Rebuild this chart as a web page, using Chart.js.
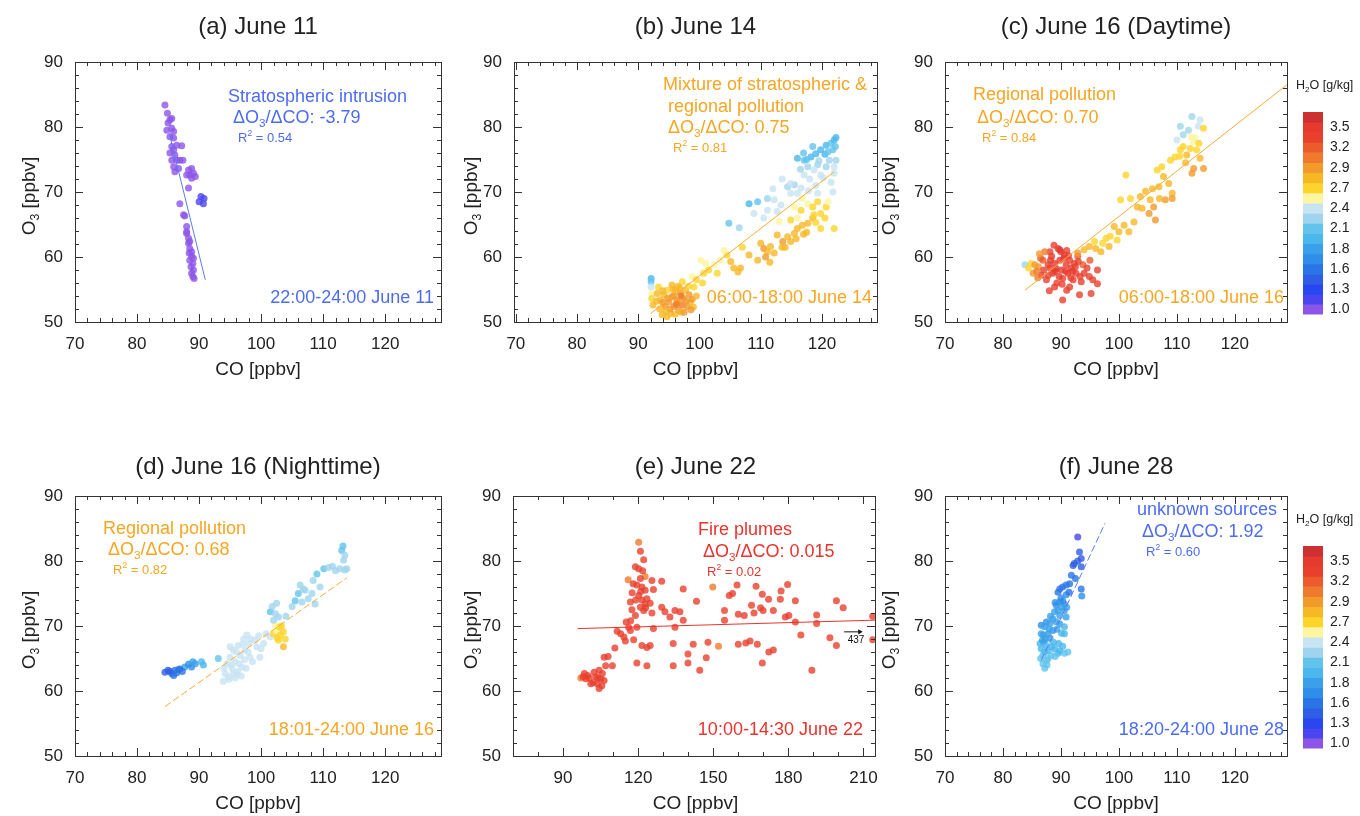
<!DOCTYPE html>
<html>
<head>
<meta charset="utf-8">
<script src="https://cdn.jsdelivr.net/npm/chart.js@4.4.0/dist/chart.umd.min.js"></script>
<style>
  body { margin: 0; background: #fff; width: 1360px; height: 816px; position: relative; overflow: hidden; }
  canvas { position: absolute; }
</style>
</head>
<body>
<canvas id="pa"></canvas>
<canvas id="pb"></canvas>
<canvas id="pc"></canvas>
<canvas id="pd"></canvas>
<canvas id="pe"></canvas>
<canvas id="pf"></canvas>
<canvas id="cb1"></canvas>
<canvas id="cb2"></canvas>
<script>
const FONT = "'Liberation Sans', Arial, Helvetica, sans-serif";

// H2O colour scale, bottom (1.0 g/kg) to top
const bandColors = ['#8c55e8', '#4a45ee', '#2847f0', '#2e5ee6', '#2a75e6', '#2f8ee9', '#3aa0ea', '#4ab8ec', '#62c4ec', '#a0d4ee',
  '#c8e4f2', '#fef5a0', '#fcd42b', '#f6b825', '#f29a2c', '#f07a2c', '#ec5b2c', '#e8402d', '#e63a2e', '#cc3030'];
const bandLabels = ['1.0', '', '1.3', '', '1.6', '', '1.8', '', '2.1', '', '2.4', '', '2.7', '', '2.9', '', '3.2', '', '3.5', ''];
const bandSpan = [1, 1, 1, 1, 1, 1, 1, 1, 1, 1, 1, 1, 1, 1, 1, 1, 1, 1, 1, 1];

// (a) June 11
const coA = [84.5, 84.9, 85.3, 85.6, 85.0, 84.8, 85.6, 85.9, 85.3, 85.9,
  85.6, 86.4, 87.2, 85.9, 85.3, 86.1, 85.6, 86.4, 86.9, 87.4,
  85.9, 86.7, 86.1, 88.3, 88.8, 89.1, 88.5, 88.0, 89.4, 88.8,
  88.3, 90.3, 90.8, 90.0, 90.7, 86.9, 87.5, 87.7, 88.0, 88.0,
  88.3, 88.3, 88.5, 88.4, 88.8, 88.5, 89.0, 88.7, 89.1, 88.8,
  89.2, 89.0, 88.0, 88.8, 89.1, 88.5];
const o3A = [83.4, 82.1, 81.1, 81.3, 80.6, 79.5, 79.8, 79.3, 78.5, 78.3,
  77.0, 77.2, 77.1, 76.5, 76.0, 75.7, 74.9, 74.9, 74.9, 74.9,
  73.9, 73.6, 73.1, 73.4, 73.6, 72.9, 72.6, 72.6, 72.4, 72.1,
  70.6, 69.3, 69.0, 68.5, 68.2, 68.2, 66.5, 66.3, 64.7, 63.9,
  62.9, 62.1, 61.3, 60.6, 60.1, 59.5, 59.0, 58.5, 58.0, 57.5,
  56.7, 57.0, 63.6, 60.8, 59.8, 62.4];
const h2oA = [1.0, 1.0, 1.0, 1.0, 1.0, 1.0, 1.0, 1.0, 1.0, 1.0,
  1.0, 1.0, 1.0, 1.0, 1.0, 1.0, 1.0, 1.0, 1.0, 1.0,
  1.0, 1.0, 1.0, 1.0, 1.0, 1.0, 1.0, 1.0, 1.0, 1.0,
  1.0, 1.2, 1.2, 1.2, 1.2, 1.0, 1.0, 1.0, 1.0, 1.0,
  1.0, 1.0, 1.0, 1.0, 1.0, 1.0, 1.0, 1.0, 1.0, 1.0,
  1.0, 1.0, 1.0, 1.0, 1.0, 1.0];

// (b) June 14
const coB = [92.1, 92.1, 92.1, 92.2, 92.2, 92.4, 93.1, 93.6, 94.2, 94.4,
  94.7, 95.0, 95.3, 95.5, 95.8, 96.1, 96.3, 96.6, 96.9, 97.2,
  97.4, 97.7, 98.0, 98.3, 98.5, 93.9, 94.7, 93.3, 95.5, 97.2,
  99.1, 98.8, 100.2, 100.7, 101.5, 102.4, 102.9, 104.5, 105.1, 105.6,
  106.3, 106.7, 108.1, 103.4, 110.0, 110.5, 111.1, 110.8, 111.6, 112.7,
  113.6, 114.4, 114.9, 115.5, 116.0, 116.8, 117.7, 118.5, 119.8, 122.0,
  112.2, 116.6, 117.7, 118.5, 119.3, 118.7, 119.8, 120.7, 116.0, 115.5,
  114.9, 119.3, 116.8, 108.1, 109.5, 111.1, 112.2, 113.3, 108.9, 111.1,
  112.7, 104.8, 114.4, 115.5, 116.6, 114.9, 116.0, 116.0, 117.1, 118.2,
  119.0, 119.8, 120.7, 121.5, 122.0, 122.3, 117.7, 119.3, 120.7, 122.0,
  118.7, 121.2, 122.3, 117.1, 119.8, 122.0, 114.9, 120.5, 121.0, 117.5,
  118.0, 121.5, 113.0, 117.0, 113.5, 96.5, 94.0, 97.0, 99.5, 93.5,
  94.0, 94.8, 95.2, 95.8, 96.0, 96.5, 96.8, 97.5, 97.8, 98.2,
  98.8, 99.0, 93.0, 94.5, 95.7, 97.0, 96.2, 98.6, 99.5, 100.5,
  101.0, 104.0, 107.0, 109.5, 111.5, 114.0, 115.8, 117.5, 119.0, 120.5,
  121.0, 121.8, 119.0, 117.8, 120.2, 118.5, 117.0, 121.8, 122.2, 119.5,
  116.5, 113.5, 112.0, 110.5, 106.5];
const o3B = [56.7, 56.2, 55.4, 54.4, 53.6, 52.6, 54.4, 53.4, 54.2, 52.4,
  54.9, 53.1, 51.3, 53.9, 52.4, 54.9, 53.4, 51.8, 54.4, 52.6,
  53.6, 54.9, 52.4, 54.2, 53.1, 51.1, 50.8, 55.4, 55.7, 56.2,
  55.4, 57.0, 59.5, 57.5, 58.0, 58.8, 57.5, 60.3, 59.3, 58.3,
  57.7, 58.3, 60.3, 59.5, 62.1, 61.3, 60.8, 60.0, 61.6, 63.4,
  62.4, 63.1, 62.4, 63.6, 64.4, 64.9, 65.2, 66.0, 64.4, 64.4,
  60.6, 67.2, 68.2, 67.7, 68.5, 66.5, 66.7, 67.7, 66.0, 67.7,
  65.7, 69.8, 69.0, 68.2, 68.5, 69.0, 68.8, 68.0, 66.7, 67.2,
  67.0, 65.2, 70.8, 71.1, 70.6, 69.8, 69.8, 75.2, 74.9, 75.4,
  75.9, 76.5, 77.2, 77.5, 78.0, 78.4, 73.9, 74.2, 73.9, 73.9,
  73.4, 74.9, 74.9, 72.6, 72.6, 72.9, 71.3, 75.8, 76.2, 75.0,
  72.0, 71.5, 65.5, 63.5, 61.5, 55.5, 53.0, 51.5, 56.5, 52.0,
  54.8, 53.6, 52.0, 54.0, 51.2, 53.0, 55.2, 51.5, 53.2, 55.5,
  53.5, 52.3, 53.2, 51.7, 55.0, 54.0, 52.7, 51.9, 54.0, 56.0,
  59.0, 61.0, 61.5, 59.5, 59.2, 61.5, 62.8, 63.8, 65.3, 66.0,
  68.5, 70.0, 71.0, 70.2, 72.2, 77.0, 76.0, 76.5, 77.0, 74.8,
  73.5, 72.0, 70.5, 66.0, 64.5];
const h2oB = [2.0, 2.1, 2.4, 2.55, 2.65, 2.75, 2.8, 2.85, 2.8, 2.9,
  2.7, 3.0, 2.85, 2.9, 3.0, 2.8, 3.0, 2.9, 2.9, 3.1,
  3.0, 2.8, 2.9, 2.95, 2.85, 2.75, 2.8, 2.7, 2.75, 2.6,
  2.6, 2.55, 2.5, 2.6, 2.7, 2.55, 2.6, 2.6, 2.8, 2.85,
  2.85, 2.8, 2.85, 2.5, 2.85, 2.9, 2.85, 2.9, 2.85, 2.85,
  2.9, 2.85, 2.85, 2.8, 2.8, 2.75, 2.8, 2.75, 2.7, 2.65,
  2.8, 2.6, 2.55, 2.65, 2.6, 2.65, 2.6, 2.6, 2.55, 2.5,
  2.6, 2.45, 2.5, 2.0, 2.15, 2.3, 2.35, 2.4, 2.35, 2.4,
  2.4, 2.1, 2.3, 2.3, 2.35, 2.4, 2.4, 2.0, 2.05, 2.0,
  1.95, 2.0, 2.0, 2.05, 2.0, 2.0, 2.2, 2.3, 2.3, 2.35,
  2.35, 2.25, 2.3, 2.4, 2.4, 2.45, 2.35, 2.0, 2.05, 2.1,
  2.4, 2.45, 2.55, 2.75, 2.85, 2.75, 2.95, 2.85, 2.6, 2.8,
  2.75, 2.9, 2.9, 2.95, 2.85, 3.0, 2.8, 2.9, 3.0, 2.7,
  2.9, 2.85, 2.8, 2.85, 2.8, 3.05, 3.1, 2.9, 2.75, 2.6,
  2.55, 2.55, 2.6, 2.85, 2.8, 2.85, 2.8, 2.8, 2.7, 2.65,
  2.55, 2.45, 2.4, 2.45, 2.4, 2.05, 2.1, 2.1, 2.05, 2.25,
  2.3, 2.35, 2.35, 2.45, 2.3];

// (c) June 16 daytime
const coC = [83.8, 84.4, 85.2, 84.9, 86.1, 86.6, 86.9, 87.5, 88.1, 88.4,
  88.6, 88.9, 89.5, 89.8, 90.1, 90.3, 90.6, 90.9, 91.2, 91.5,
  91.8, 92.1, 92.3, 92.6, 92.9, 93.5, 94.0, 94.9, 96.3, 96.3,
  95.2, 93.2, 90.3, 89.8, 88.9, 91.5, 88.1, 87.2, 92.9, 94.0,
  94.9, 95.8, 96.9, 97.8, 98.3, 99.2, 100.0, 100.9, 101.7, 99.7,
  97.2, 100.3, 101.2, 102.0, 103.2, 103.7, 104.6, 105.4, 106.0, 106.3,
  105.2, 102.6, 106.9, 107.7, 107.4, 106.6, 108.6, 109.2, 109.2, 108.0,
  108.9, 109.7, 110.6, 111.1, 111.7, 112.3, 112.9, 113.4, 114.0, 112.9,
  114.6, 112.6, 111.1, 112.0, 112.6, 110.6, 113.7, 114.6, 114.0, 113.1,
  110.0, 89.0, 90.5, 91.0, 87.8, 92.0, 89.3, 93.8, 86.0, 86.5,
  87.0, 87.8, 88.2, 88.8, 89.2, 89.7, 90.0, 90.8, 91.3, 91.7,
  92.5, 93.0, 93.3, 94.5, 95.0, 95.5, 86.3, 85.5, 85.8, 90.2,
  91.0, 88.0, 110.5, 111.5, 113.8, 112.5, 104.0, 105.8, 107.0, 98.5,
  96.0];
const o3C = [58.8, 58.3, 57.5, 59.0, 58.5, 57.2, 59.5, 56.5, 58.3, 60.1,
  57.5, 59.0, 61.3, 59.5, 58.0, 56.7, 60.3, 58.8, 57.5, 59.5,
  58.3, 56.5, 59.0, 57.5, 60.1, 56.2, 57.5, 57.0, 58.0, 55.9,
  54.4, 54.2, 53.4, 61.1, 55.4, 55.4, 60.8, 60.8, 60.6, 61.1,
  61.6, 62.4, 60.8, 62.9, 61.6, 64.7, 63.9, 64.9, 63.9, 62.6,
  62.1, 68.8, 72.6, 69.0, 67.7, 69.3, 70.1, 68.8, 67.7, 65.7,
  66.7, 65.4, 70.8, 72.4, 73.9, 73.4, 71.3, 69.8, 69.0, 68.8,
  74.9, 75.4, 76.5, 77.0, 75.7, 76.7, 77.7, 76.5, 75.2, 73.6,
  73.6, 72.9, 78.8, 79.5, 81.6, 80.1, 80.1, 79.8, 81.1, 78.3,
  78.0, 57.8, 59.8, 61.0, 58.8, 57.8, 56.0, 58.8, 56.8, 59.8,
  58.0, 57.2, 59.5, 61.8, 58.2, 57.0, 60.8, 57.8, 60.2, 56.8,
  58.5, 59.3, 57.0, 58.3, 59.5, 56.5, 60.5, 58.8, 57.8, 55.8,
  54.9, 54.8, 75.5, 74.5, 77.5, 78.5, 67.5, 70.5, 69.0, 63.2,
  61.3];
const h2oC = [2.3, 2.6, 2.9, 2.7, 3.0, 3.3, 3.2, 3.4, 3.4, 3.4,
  3.5, 3.5, 3.4, 3.5, 3.5, 3.4, 3.4, 3.5, 3.4, 3.3,
  3.5, 3.4, 3.3, 3.4, 3.2, 3.4, 3.3, 3.4, 3.4, 3.4,
  3.4, 3.4, 3.4, 3.5, 3.4, 3.4, 3.3, 3.1, 2.9, 2.8,
  2.75, 2.7, 2.8, 2.65, 2.8, 2.75, 2.8, 2.85, 2.85, 2.7,
  2.6, 2.65, 2.6, 2.7, 2.8, 2.75, 2.8, 2.85, 2.9, 2.95,
  2.9, 2.85, 2.8, 2.75, 2.6, 2.7, 2.8, 2.85, 2.95, 2.9,
  2.7, 2.6, 2.65, 2.7, 2.75, 2.6, 2.55, 2.7, 2.85, 2.9,
  2.9, 2.95, 2.3, 2.2, 2.3, 2.25, 2.45, 2.6, 2.4, 2.5,
  2.4, 3.5, 3.5, 3.4, 3.3, 3.5, 3.4, 3.2, 3.1, 3.2,
  3.4, 3.4, 3.5, 3.4, 3.5, 3.5, 3.5, 3.5, 3.4, 3.4,
  3.4, 3.3, 3.4, 3.3, 3.2, 3.4, 3.0, 2.9, 3.1, 3.4,
  3.4, 3.4, 2.6, 2.8, 2.65, 2.5, 2.85, 2.8, 2.85, 2.7,
  2.75];

// (d) June 16 nighttime
const coD = [84.5, 85.0, 85.6, 86.1, 86.7, 85.9, 87.7, 88.3, 88.8, 89.4,
  90.4, 90.7, 86.9, 93.1, 94.2, 94.5, 94.7, 95.0, 95.3, 95.5,
  95.8, 96.1, 96.3, 96.6, 96.9, 97.2, 97.4, 97.7, 98.0, 98.2,
  99.3, 100.4, 101.5, 99.8, 95.5, 102.0, 102.5, 103.1, 103.6, 102.8,
  103.6, 102.3, 101.5, 102.3, 102.8, 102.0, 105.5, 106.0, 107.1, 108.2,
  106.6, 108.7, 107.6, 108.4, 109.0, 110.1, 110.9, 112.7, 113.5, 113.3,
  113.0, 113.2, 113.5, 106.8, 106.3, 94.0, 94.8, 95.2, 95.8, 96.0,
  96.4, 96.8, 97.0, 97.3, 97.9, 98.3, 98.6, 99.0, 99.6, 100.0,
  100.8, 95.0, 93.9, 96.2, 97.6, 102.6, 103.3, 103.9, 103.0, 101.8,
  102.5, 104.0, 105.0, 109.5, 111.5, 112.0, 113.8, 85.3, 86.4, 87.3,
  89.0];
const o3D = [62.9, 63.2, 62.7, 63.2, 63.3, 62.4, 63.7, 64.1, 63.7, 64.2,
  64.5, 64.0, 63.4, 65.0, 62.7, 64.2, 62.2, 65.2, 63.5, 66.3,
  64.5, 62.7, 67.0, 65.5, 63.7, 68.0, 66.3, 68.6, 67.3, 65.2,
  66.8, 67.3, 68.3, 65.2, 62.7, 68.8, 69.3, 68.6, 69.1, 67.8,
  66.8, 70.1, 72.2, 71.9, 71.4, 70.9, 73.9, 75.0, 75.5, 75.0,
  73.7, 73.4, 74.2, 77.0, 78.0, 78.8, 79.0, 78.8, 78.6, 80.1,
  81.6, 82.3, 80.9, 75.7, 76.3, 63.5, 61.8, 64.0, 62.0, 66.0,
  64.2, 62.3, 67.2, 64.8, 66.0, 68.0, 64.5, 67.8, 68.5, 66.5,
  68.8, 66.8, 61.5, 63.0, 63.5, 68.2, 70.0, 68.0, 69.8, 73.0,
  73.5, 71.5, 73.0, 76.0, 79.2, 78.5, 78.8, 63.0, 62.8, 63.0,
  64.5];
const h2oD = [1.4, 1.4, 1.5, 1.5, 1.5, 1.6, 1.8, 1.7, 1.75, 1.8,
  2.0, 2.0, 1.5, 2.1, 2.35, 2.35, 2.35, 2.35, 2.35, 2.35,
  2.35, 2.35, 2.35, 2.35, 2.35, 2.35, 2.35, 2.35, 2.35, 2.35,
  2.35, 2.35, 2.35, 2.35, 2.35, 2.6, 2.55, 2.6, 2.65, 2.6,
  2.75, 2.5, 2.15, 2.2, 2.25, 2.3, 2.1, 2.15, 2.2, 2.2,
  2.3, 2.3, 2.25, 2.2, 2.15, 2.15, 2.2, 2.2, 2.25, 2.2,
  2.1, 2.05, 2.2, 2.2, 2.3, 2.35, 2.35, 2.35, 2.35, 2.35,
  2.35, 2.35, 2.35, 2.35, 2.35, 2.35, 2.35, 2.35, 2.35, 2.35,
  2.35, 2.35, 2.35, 2.35, 2.35, 2.6, 2.6, 2.6, 2.6, 2.25,
  2.25, 2.25, 2.25, 2.25, 2.25, 2.25, 2.25, 1.45, 1.5, 1.6,
  1.8];

// (e) June 22
const coE = [97.1, 120.2, 116.0, 122.8, 149.8, 152.1, 98.5, 99.8, 99.1, 101.1,
  103.1, 103.7, 104.4, 105.0, 105.7, 106.4, 102.4, 104.4, 106.4, 107.0,
  109.7, 110.7, 111.6, 114.3, 114.9, 115.2, 116.2, 116.9, 118.2, 119.5,
  119.5, 118.9, 123.5, 120.9, 122.2, 118.9, 120.2, 120.9, 119.5, 121.5,
  122.8, 117.6, 120.2, 123.5, 121.5, 116.9, 122.8, 124.8, 120.9, 122.2,
  125.5, 129.4, 126.1, 125.5, 129.4, 130.7, 132.7, 134.7, 136.7, 138.0,
  138.0, 134.7, 126.1, 124.8, 121.5, 123.5, 134.0, 134.0, 139.9, 139.9,
  142.0, 143.3, 144.6, 147.2, 147.9, 154.5, 154.5, 156.4, 157.7, 159.5,
  160.0, 162.4, 160.0, 163.0, 164.7, 167.6, 165.3, 166.3, 167.1, 169.6,
  168.9, 169.9, 169.6, 172.1, 172.2, 174.0, 174.0, 176.8, 177.1, 178.8,
  179.7, 180.2, 182.8, 182.8, 185.0, 189.4, 191.3, 191.3, 196.6, 199.2,
  199.2, 201.9, 213.7, 213.7, 117.5, 119.0, 121.0, 118.0, 121.8, 123.0,
  117.0, 113.0, 108.0, 100.5, 102.0, 104.0, 105.5, 98.0];
const o3E = [62.0, 82.9, 77.1, 77.6, 76.0, 66.9, 62.7, 62.4, 61.9, 61.1,
  62.2, 61.1, 60.4, 61.9, 62.7, 61.6, 62.9, 63.2, 65.2, 63.9,
  63.9, 66.6, 69.2, 68.3, 67.7, 70.6, 69.8, 69.3, 67.9, 69.8,
  64.3, 71.6, 63.9, 81.5, 80.2, 79.1, 78.8, 77.3, 76.3, 76.0,
  75.5, 75.1, 74.7, 74.2, 74.0, 73.7, 73.4, 73.5, 72.9, 72.4,
  77.0, 76.9, 75.6, 72.0, 72.9, 72.2, 71.4, 72.4, 72.2, 75.7,
  70.9, 69.8, 69.6, 67.0, 67.0, 66.7, 67.3, 63.9, 65.7, 64.3,
  67.2, 73.8, 63.2, 65.1, 67.5, 72.4, 70.9, 74.7, 75.0, 76.3,
  71.8, 71.6, 67.2, 67.4, 67.7, 67.2, 73.2, 72.0, 76.1, 74.9,
  72.8, 72.4, 64.3, 74.1, 66.0, 66.3, 72.4, 74.1, 75.4, 71.4,
  76.4, 71.6, 73.9, 70.6, 68.6, 63.2, 71.7, 70.4, 68.2, 73.9,
  67.0, 72.8, 71.5, 67.9, 72.5, 74.0, 75.3, 76.5, 78.5, 72.8,
  70.8, 68.8, 65.3, 62.0, 61.3, 62.0, 60.8, 62.2];
const h2oE = [3.05, 3.05, 3.05, 3.05, 3.05, 3.05, 3.4, 3.4, 3.4, 3.4,
  3.4, 3.4, 3.4, 3.4, 3.4, 3.4, 3.4, 3.4, 3.4, 3.4,
  3.4, 3.4, 3.4, 3.4, 3.4, 3.4, 3.4, 3.4, 3.4, 3.4,
  3.4, 3.4, 3.4, 3.4, 3.4, 3.4, 3.4, 3.4, 3.4, 3.4,
  3.4, 3.4, 3.4, 3.4, 3.4, 3.4, 3.4, 3.4, 3.4, 3.4,
  3.4, 3.4, 3.4, 3.4, 3.4, 3.4, 3.4, 3.4, 3.4, 3.4,
  3.4, 3.4, 3.4, 3.4, 3.4, 3.4, 3.4, 3.4, 3.4, 3.4,
  3.4, 3.4, 3.4, 3.4, 3.4, 3.4, 3.4, 3.4, 3.4, 3.4,
  3.4, 3.4, 3.4, 3.4, 3.4, 3.4, 3.4, 3.4, 3.4, 3.4,
  3.4, 3.4, 3.4, 3.4, 3.4, 3.4, 3.4, 3.4, 3.4, 3.4,
  3.4, 3.4, 3.4, 3.4, 3.4, 3.4, 3.4, 3.4, 3.4, 3.4,
  3.4, 3.4, 3.4, 3.4, 3.4, 3.4, 3.4, 3.4, 3.4, 3.4,
  3.4, 3.4, 3.4, 3.4, 3.4, 3.4, 3.4, 3.4];

// (f) June 28
const coF = [92.9, 93.2, 93.5, 92.9, 92.3, 93.5, 92.1, 91.8, 91.5, 90.9,
  90.3, 89.8, 93.5, 93.6, 89.5, 90.3, 89.8, 90.6, 89.2, 90.1,
  89.5, 88.9, 90.6, 89.8, 90.9, 88.6, 89.2, 87.5, 88.1, 86.6,
  87.2, 89.8, 90.6, 90.1, 90.6, 88.6, 87.8, 87.0, 88.1, 87.0,
  86.4, 87.5, 88.4, 86.6, 87.8, 88.9, 89.8, 90.6, 89.5, 86.9,
  87.8, 86.9, 87.2, 87.5, 88.2, 89.0, 90.0, 90.9, 89.3, 88.0,
  87.3, 86.8, 88.7, 89.6, 90.3, 87.2, 88.3, 86.5, 87.6, 89.0,
  91.0, 91.4, 92.5, 91.2, 86.6];
const o3F = [83.7, 81.4, 80.4, 80.0, 79.6, 79.1, 79.3, 77.8, 76.5, 76.3,
  76.0, 75.7, 75.7, 74.6, 75.2, 73.9, 73.7, 73.4, 73.2, 72.9,
  72.4, 72.2, 72.4, 71.6, 71.4, 71.1, 70.6, 70.6, 70.4, 70.1,
  69.9, 70.3, 69.9, 68.9, 68.8, 69.3, 68.8, 68.6, 68.1, 67.5,
  67.3, 67.0, 66.8, 66.5, 66.2, 66.5, 66.2, 65.8, 65.8, 65.5,
  65.0, 64.2, 63.5, 64.7, 71.5, 73.6, 74.3, 74.8, 69.5, 69.5,
  68.0, 67.8, 67.5, 67.3, 66.9, 66.0, 65.5, 65.0, 64.0, 65.3,
  72.9, 75.2, 77.3, 66.0, 68.8];
const h2oF = [1.2, 1.35, 1.4, 1.4, 1.4, 1.45, 1.4, 1.5, 1.5, 1.5,
  1.5, 1.55, 1.6, 1.65, 1.6, 1.7, 1.7, 1.75, 1.75, 1.8,
  1.8, 1.85, 1.8, 1.8, 1.85, 1.85, 1.8, 1.75, 1.8, 1.75,
  1.8, 1.9, 1.95, 2.0, 1.95, 1.9, 1.85, 1.85, 1.9, 1.9,
  1.95, 1.95, 2.0, 1.95, 2.0, 2.0, 2.0, 2.05, 2.0, 2.05,
  2.05, 2.1, 2.1, 2.1, 1.8, 1.75, 1.7, 1.65, 1.9, 1.85,
  1.9, 1.9, 1.95, 2.0, 2.0, 2.0, 2.05, 2.05, 2.1, 2.05,
  1.8, 1.6, 1.5, 2.05, 1.85];

// regression lines (end points)
const fitA = [{ x: 85.2, y: 79.0 }, { x: 91.0, y: 56.5 }];
const fitB = [{ x: 92.0, y: 51.3 }, { x: 122.0, y: 73.1 }];
const fitC = [{ x: 83.8, y: 54.9 }, { x: 129.0, y: 86.5 }];
const fitD = [{ x: 84.5, y: 57.6 }, { x: 113.8, y: 77.4 }];
const fitE = [{ x: 95.8, y: 69.6 }, { x: 214.6, y: 70.9 }];
const fitF = [{ x: 86.6, y: 64.7 }, { x: 97.6, y: 85.8 }];
const arrowE = [{ x: 202.3, y: 69.1 }, { x: 208.5, y: 69.1 }];

const BLUE = '#4d6cf0', ORANGE = '#f5a623', RED = '#e8342e';

Chart.defaults.font.family = FONT;
Chart.defaults.color = '#222';

const deco = {};

function h2oColor(h, alpha) {
  const k = Math.max(0, Math.min(19, Math.round((h - 1.0) / 0.139)));
  const c = bandColors[k];
  const r = parseInt(c.slice(1, 3), 16), g = parseInt(c.slice(3, 5), 16), b = parseInt(c.slice(5, 7), 16);
  return `rgba(${r},${g},${b},${alpha})`;
}

function richParts(s) {
  const parts = [];
  let buf = '';
  for (let i = 0; i < s.length; i++) {
    const c = s[i];
    if ((c === '_' || c === '^') && i + 1 < s.length) {
      if (buf) parts.push({ t: buf, k: 0 });
      buf = '';
      parts.push({ t: s[i + 1], k: c === '_' ? 1 : -1 });
      i++;
    } else {
      buf += c;
    }
  }
  if (buf) parts.push({ t: buf, k: 0 });
  return parts;
}

function drawRich(ctx, s, x, y, size, color, align) {
  const parts = richParts(s);
  let w = 0;
  parts.forEach(p => {
    p.size = p.k ? size * 0.65 : size;
    ctx.font = p.size + 'px ' + FONT;
    p.w = ctx.measureText(p.t).width;
    w += p.w;
  });
  let cx = align === 'right' ? x - w : align === 'center' ? x - w / 2 : x;
  ctx.fillStyle = color;
  ctx.textBaseline = 'middle';
  ctx.textAlign = 'left';
  parts.forEach(p => {
    ctx.font = p.size + 'px ' + FONT;
    const dy = p.k === 1 ? size * 0.3 : p.k === -1 ? -size * 0.35 : 0;
    ctx.fillText(p.t, cx, y + dy);
    cx += p.w;
  });
}

function drawFrame(chart, d) {
  const ctx = chart.ctx, a = chart.chartArea, xs = chart.scales.x, ys = chart.scales.y;
  ctx.strokeStyle = '#333';
  ctx.lineWidth = 1;
  ctx.beginPath();
  for (let i = Math.ceil(xs.min / d.xMinor); i * d.xMinor <= xs.max; i++) {
    const v = i * d.xMinor;
    const px = Math.round(xs.getPixelForValue(v)) + 0.5;
    const len = v % d.xMajor === 0 ? 8 : 4;
    ctx.moveTo(px, a.bottom); ctx.lineTo(px, a.bottom - len);
    ctx.moveTo(px, a.top); ctx.lineTo(px, a.top + len);
  }
  for (let i = Math.ceil(ys.min / 2); i * 2 <= ys.max; i++) {
    const v = i * 2;
    const py = Math.round(ys.getPixelForValue(v)) + 0.5;
    const len = v % 10 === 0 ? 8 : 4;
    ctx.moveTo(a.left, py); ctx.lineTo(a.left + len, py);
    ctx.moveTo(a.right, py); ctx.lineTo(a.right - len, py);
  }
  ctx.stroke();
  ctx.strokeRect(Math.round(a.left) + 0.5, Math.round(a.top) + 0.5, Math.round(a.right - a.left), Math.round(a.bottom - a.top));
}

Chart.register({
  id: 'panelDeco',
  afterDraw(chart) {
    const d = deco[chart.canvas.id];
    if (!d) return;
    const ctx = chart.ctx;
    ctx.save();
    if (d.frame) drawFrame(chart, d);
    d.texts.forEach(t => {
      const x = t.x - d.left, y = t.y - d.top;
      if (t.rot) {
        ctx.save();
        ctx.translate(x, y);
        ctx.rotate(-Math.PI / 2);
        drawRich(ctx, t.s, 0, 0, t.size, t.color, 'center');
        ctx.restore();
      } else {
        drawRich(ctx, t.s, x, y, t.size, t.color, t.align || 'left');
      }
    });
    ctx.restore();
  }
});

const PANEL_H = 383;

function makePanel(p) {
  const el = document.getElementById(p.id);
  el.style.left = p.left + 'px';
  el.style.top = p.top + 'px';
  el.width = p.width;
  el.height = PANEL_H;
  const areaL = p.left + p.yW, areaR = p.left + p.width - p.padR;
  const cx = (areaL + areaR) / 2;
  deco[p.id] = {
    left: p.left, top: p.top, frame: true, xMinor: p.xMinor, xMajor: p.xMajor,
    texts: [
      { s: p.title, x: cx, y: p.top + p.titleY, size: 24, color: '#222', align: 'center' },
      { s: 'CO [ppbv]', x: cx, y: p.top + 370, size: 19, color: '#222', align: 'center' },
      { s: 'O_3 [ppbv]', x: p.yTitleX, y: p.top + 196, size: 19, color: '#222', rot: true }
    ].concat(p.notes)
  };
  const datasets = [
    { type: 'line', data: p.fit, borderColor: p.lineColor, borderWidth: 1, borderDash: p.dash || [], pointRadius: 0, fill: false, order: 0 },
    {
      data: p.co.map((c, i) => ({ x: c, y: p.o3[i] })),
      pointRadius: 3.5,
      pointBackgroundColor: p.h2o.map(h => h2oColor(h, 0.8)),
      pointBorderWidth: 0,
      order: 1
    }
  ].concat(p.extra || []);
  new Chart(el, {
    type: 'scatter',
    data: { datasets },
    options: {
      responsive: false,
      animation: false,
      events: [],
      layout: { padding: { top: 62, right: p.padR, left: 0, bottom: 0 } },
      plugins: { legend: { display: false }, tooltip: { enabled: false } },
      scales: {
        x: {
          type: 'linear', min: p.xMin, max: p.xMax,
          grid: { display: false, drawTicks: false }, border: { display: false },
          ticks: { stepSize: p.xMajor, includeBounds: false, padding: 12, font: { size: 17 }, color: '#222', maxRotation: 0, autoSkip: false },
          afterFit: s => { s.height = PANEL_H - 322; }
        },
        y: {
          type: 'linear', min: 50, max: 90,
          grid: { display: false, drawTicks: false }, border: { display: false },
          ticks: { stepSize: 10, includeBounds: false, padding: 12, font: { size: 17 }, color: '#222' },
          afterFit: s => { s.width = p.yW; }
        }
      }
    }
  });
}

function makeColorbar(id, top) {
  const el = document.getElementById(id);
  el.style.left = '1295px';
  el.style.top = top + 'px';
  el.width = 65;
  el.height = 260;
  deco[id] = { left: 1295, top, frame: false, texts: [{ s: 'H_2O [g/kg]', x: 1296, y: top + 16, size: 12.5, color: '#222' }] };
  new Chart(el, {
    type: 'bar',
    data: { labels: bandLabels, datasets: [{ data: bandSpan, backgroundColor: bandColors, borderWidth: 0, barPercentage: 1, categoryPercentage: 1 }] },
    options: {
      indexAxis: 'y',
      responsive: false,
      animation: false,
      events: [],
      layout: { padding: { top: 42, bottom: 10, left: 8, right: 0 } },
      plugins: { legend: { display: false }, tooltip: { enabled: false } },
      scales: {
        x: { display: false, min: 0, max: 1 },
        y: {
          position: 'right', reverse: true,
          grid: { display: false, drawTicks: false }, border: { display: false },
          ticks: { autoSkip: false, padding: 7, font: { size: 14 }, color: '#222' },
          afterFit: s => { s.width = 37; }
        }
      }
    }
  });
}

const ROW2 = 434;

makePanel({
  id: 'pa', left: 0, top: 0, width: 450, yW: 75, padR: 9, yTitleX: 30, titleY: 27,
  xMin: 70, xMax: 129, xMajor: 10, xMinor: 2, title: '(a) June 11',
  co: coA, o3: o3A, h2o: h2oA, fit: fitA, lineColor: '#5b7cf0',
  notes: [
    { s: 'Stratospheric intrusion', x: 228, y: 97, size: 18, color: BLUE },
    { s: '\u0394O_3/\u0394CO: -3.79', x: 233, y: 118, size: 18, color: BLUE },
    { s: 'R^2 = 0.54', x: 238, y: 138, size: 13, color: BLUE },
    { s: '22:00-24:00 June 11', x: 434, y: 298, size: 18, color: BLUE, align: 'right' }
  ]
});

makePanel({
  id: 'pb', left: 450, top: 0, width: 440, yW: 64, padR: 13, yTitleX: 472, titleY: 27,
  xMin: 69.7, xMax: 129, xMajor: 10, xMinor: 2, title: '(b) June 14',
  co: coB, o3: o3B, h2o: h2oB, fit: fitB, lineColor: '#f5ac3a',
  notes: [
    { s: 'Mixture of stratospheric &', x: 663, y: 85, size: 18, color: ORANGE },
    { s: 'regional pollution', x: 668, y: 107, size: 18, color: ORANGE },
    { s: '\u0394O_3/\u0394CO: 0.75', x: 668, y: 128, size: 18, color: ORANGE },
    { s: 'R^2 = 0.81', x: 673, y: 148, size: 13, color: ORANGE },
    { s: '06:00-18:00 June 14', x: 872, y: 298, size: 18, color: ORANGE, align: 'right' }
  ]
});

makePanel({
  id: 'pc', left: 870, top: 0, width: 425, yW: 75, padR: 8, yTitleX: 890, titleY: 27,
  xMin: 70, xMax: 129, xMajor: 10, xMinor: 2, title: '(c) June 16 (Daytime)',
  co: coC, o3: o3C, h2o: h2oC, fit: fitC, lineColor: '#f5ac3a',
  notes: [
    { s: 'Regional pollution', x: 973, y: 95, size: 18, color: ORANGE },
    { s: '\u0394O_3/\u0394CO: 0.70', x: 977, y: 118, size: 18, color: ORANGE },
    { s: 'R^2 = 0.84', x: 982, y: 138, size: 13, color: ORANGE },
    { s: '06:00-18:00 June 16', x: 1284, y: 298, size: 18, color: ORANGE, align: 'right' }
  ]
});

makePanel({
  id: 'pd', left: 0, top: ROW2, width: 450, yW: 75, padR: 9, yTitleX: 30, titleY: 33,
  xMin: 70, xMax: 129, xMajor: 10, xMinor: 2, title: '(d) June 16 (Nighttime)',
  co: coD, o3: o3D, h2o: h2oD, fit: fitD, lineColor: '#f5ac3a', dash: [7, 3],
  notes: [
    { s: 'Regional pollution', x: 103, y: 529, size: 18, color: ORANGE },
    { s: '\u0394O_3/\u0394CO: 0.68', x: 108, y: 550, size: 18, color: ORANGE },
    { s: 'R^2 = 0.82', x: 113, y: 570, size: 13, color: ORANGE },
    { s: '18:01-24:00 June 16', x: 434, y: 730, size: 18, color: ORANGE, align: 'right' }
  ]
});

makePanel({
  id: 'pe', left: 450, top: ROW2, width: 440, yW: 63, padR: 12, yTitleX: 472, titleY: 33,
  xMin: 70, xMax: 214.6, xMajor: 30, xMinor: 10, title: '(e) June 22',
  co: coE, o3: o3E, h2o: h2oE, fit: fitE, lineColor: RED,
  extra: [{
    type: 'line', data: arrowE, borderColor: '#111', borderWidth: 1,
    pointRadius: [0, 3], pointStyle: 'triangle', pointRotation: 90,
    pointBackgroundColor: '#111', pointBorderWidth: 0, order: 0
  }],
  notes: [
    { s: 'Fire plumes', x: 698, y: 530, size: 18, color: RED },
    { s: '\u0394O_3/\u0394CO: 0.015', x: 703, y: 552, size: 18, color: RED },
    { s: 'R^2 = 0.02', x: 707, y: 572, size: 13, color: RED },
    { s: '10:00-14:30 June 22', x: 863, y: 730, size: 18, color: RED, align: 'right' },
    { s: '437', x: 856, y: 640, size: 10, color: '#111', align: 'center' }
  ]
});

makePanel({
  id: 'pf', left: 870, top: ROW2, width: 425, yW: 75, padR: 8, yTitleX: 890, titleY: 33,
  xMin: 70, xMax: 129, xMajor: 10, xMinor: 2, title: '(f) June 28',
  co: coF, o3: o3F, h2o: h2oF, fit: fitF, lineColor: '#5b7cf0', dash: [7, 3],
  notes: [
    { s: 'unknown sources', x: 1137, y: 510, size: 18, color: BLUE },
    { s: '\u0394O_3/\u0394CO: 1.92', x: 1142, y: 532, size: 18, color: BLUE },
    { s: 'R^2 = 0.60', x: 1146, y: 552, size: 13, color: BLUE },
    { s: '18:20-24:00 June 28', x: 1284, y: 730, size: 18, color: BLUE, align: 'right' }
  ]
});

makeColorbar('cb1', 70);
makeColorbar('cb2', 504);
</script>
</body>
</html>
